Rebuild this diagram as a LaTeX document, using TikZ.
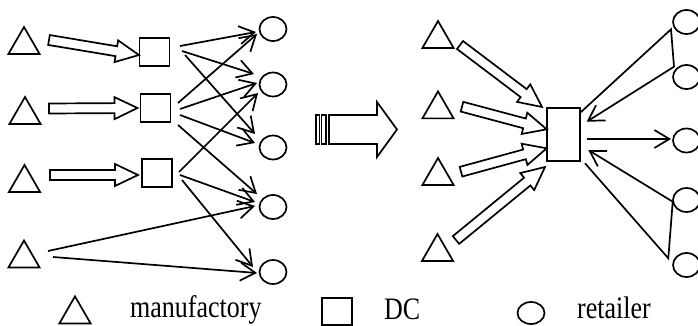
\documentclass[tikz,border=0pt]{standalone}
\usepackage{fontspec}
\setmainfont{Liberation Serif}
\usepackage{graphicx}
\usetikzlibrary{calc,shapes.geometric,arrows.meta}
\tikzset{
  base/.style={line width=1.7pt},
  tri/.style={base, draw, regular polygon, regular polygon sides=3, minimum size=36pt, inner sep=0pt},
  dcbox/.style={base, draw, rectangle, minimum width=30pt, minimum height=28pt, inner sep=0pt},
  bigdc/.style={base, draw, rectangle, minimum width=33pt, minimum height=53pt, inner sep=0pt},
  shop/.style={base, draw, ellipse, minimum width=27pt, minimum height=24pt, inner sep=0pt},
  flow/.style={base, -{Straight Barb[length=15pt,width=18pt]}},
  blockarrow/.style={base, draw, line join=miter, to path={
    let \p1=($(\tikztotarget)-(\tikztostart)$), \n1={atan2(\y1,\x1)} in
    ($(\tikztostart)+(\n1+90:5pt)$)
    -- ($(\tikztotarget)!23pt!(\tikztostart)+(\n1+90:5pt)$)
    -- ($(\tikztotarget)!23pt!(\tikztostart)+(\n1+90:11pt)$)
    -- (\tikztotarget)
    -- ($(\tikztotarget)!23pt!(\tikztostart)+(\n1-90:11pt)$)
    -- ($(\tikztotarget)!23pt!(\tikztostart)+(\n1-90:5pt)$)
    -- ($(\tikztostart)+(\n1-90:5pt)$) -- cycle}},
  legend/.style={anchor=base west, inner sep=0pt, font=\fontsize{26}{30}\selectfont}
}
\begin{document}
\begin{tikzpicture}[x=1pt,y=-1pt]
\useasboundingbox (0,0) rectangle (698,326);

% ---------- left network ----------
\node[tri] (lt1) at (24,45) {};
\node[tri] (lt2) at (25,115) {};
\node[tri] (lt3) at (24.5,183) {};
\node[tri] (lt4) at (24,258.5) {};

\node[dcbox] (ls1) at (154.5,52) {};
\node[dcbox] (ls2) at (155.5,108) {};
\node[dcbox] (ls3) at (157,173) {};

\node[shop] (lc1) at (273,29) {};
\node[shop] (lc2) at (273,84.5) {};
\node[shop] (lc3) at (273,147.5) {};
\node[shop] (lc4) at (273,207) {};
\node[shop] (lc5) at (273,272) {};

\coordinate (la1s) at ($(lt1)+(25,-5)$);
\coordinate (la1e) at ($(ls1)+(-15.5,3)$);
\coordinate (la2s) at ($(lt2)+(24,-6.5)$);
\coordinate (la2e) at ($(ls2)+(-18,0)$);
\coordinate (la3s) at ($(lt3)+(25.5,-8)$);
\coordinate (la3e) at ($(ls3)+(-19,2)$);
\path[blockarrow] (la1s) to (la1e);
\path[blockarrow] (la2s) to (la2e);
\path[blockarrow] (la3s) to (la3e);

\draw[flow] ($(ls1)+(25.5,-6)$) -- ($(lc1)+(-17,3)$);
\draw[flow] ($(ls1)+(27.5,-1)$) -- ($(lc2)+(-19,-10.5)$);
\draw[flow] ($(ls1)+(30.5,3)$) -- ($(lc3)+(-18,-13.5)$);
\draw[flow] ($(ls2)+(22.5,-5)$) -- ($(lc1)+(-16,5)$);
\draw[flow] ($(ls2)+(24.5,1)$) -- ($(lc2)+(-16,-1.5)$);
\draw[flow] ($(ls2)+(24.5,7)$) -- ($(lc3)+(-18,-4.5)$);
\draw[flow] ($(ls2)+(22.5,17)$) -- ($(lc4)+(-16,-13)$);
\draw[flow] ($(ls3)+(22,-1)$) -- ($(lc2)+(-15,8.5)$);
\draw[flow] ($(ls3)+(23,2)$) -- ($(lc4)+(-18,-5)$);
\draw[flow] ($(ls3)+(25,7)$) -- ($(lc5)+(-20,-5)$);
\draw[flow] ($(lt4)+(24,-7.5)$) -- ($(lc4)+(-18,-1)$);
\draw[flow] ($(lt4)+(29,-1.5)$) -- ($(lc5)+(-16,1)$);

% ---------- middle striped arrow ----------
\draw[base, line join=miter] (329,115) -- (377,115) -- (377,102) -- (397,129.5)
  -- (377,157) -- (377,144) -- (329,144) -- cycle;
\draw[base] (316,115) rectangle (319.5,144);
\draw[base] (321.5,115) rectangle (326,144);

% ---------- right network ----------
\node[tri] (rt1) at (438,39) {};
\node[tri] (rt2) at (438,109.4) {};
\node[tri] (rt3) at (438,176) {};
\node[tri] (rt4) at (437.5,252) {};

\node[bigdc] (rdc) at (563.5,134.5) {};

\node[shop] (rc1) at (686.5,22) {};
\node[shop] (rc2) at (686.5,77) {};
\node[shop] (rc3) at (686.5,140.5) {};
\node[shop] (rc4) at (686.5,200) {};
\node[shop] (rc5) at (686.5,265) {};

\coordinate (ra1s) at ($(rt1)+(22,6)$);
\coordinate (ra1e) at ($(rdc)+(-21.5,-27.5)$);
\coordinate (ra2s) at ($(rt2)+(24,-2.7)$);
\coordinate (ra2e) at ($(rdc)+(-16.8,-5.2)$);
\coordinate (ra3s) at ($(rt3)+(23,-4.3)$);
\coordinate (ra3e) at ($(rdc)+(-16.8,13.8)$);
\coordinate (ra4s) at ($(rt4)+(18.5,-12)$);
\coordinate (ra4e) at ($(rdc)+(-18.5,32.5)$);
\path[blockarrow] (ra1s) to (ra1e);
\path[blockarrow] (ra2s) to (ra2e);
\path[blockarrow] (ra3s) to (ra3e);
\path[blockarrow] (ra4s) to (ra4e);

\draw[flow] ($(rdc)+(23.5,4.5)$) -- ($(rc3)+(-15.5,-1.5)$);
\draw[flow, line join=miter] ($(rdc.north east)+(0,5)$) -- ($(rc1)+(-15.5,7.3)$)
  -- ($(rc2)+(-12.5,-10.3)$) -- ($(rdc)+(23.2,-12.8)$);
\draw[flow, line join=miter] ($(rdc)+(21.5,28.8)$) -- ($(rc5)+(-18.2,-6.7)$)
  -- ($(rc4)+(-13.8,1.7)$) -- ($(rdc)+(24.8,15.5)$);

% ---------- legend ----------
\node[tri] (kt) at (75,314.4) {};
\node[legend] (kttext) at (130,317) {\scalebox{1}[1.2]{manufactory}};
\node[dcbox, minimum height=27pt] (ks) at (337,311.5) {};
\node[legend] (kstext) at (384,319) {\scalebox{1}[1.2]{DC}};
\node[shop, minimum height=22pt] (kc) at (531,313) {};
\node[legend] (kctext) at (577,318) {\scalebox{1}[1.2]{retailer}};
\end{tikzpicture}
\end{document}
